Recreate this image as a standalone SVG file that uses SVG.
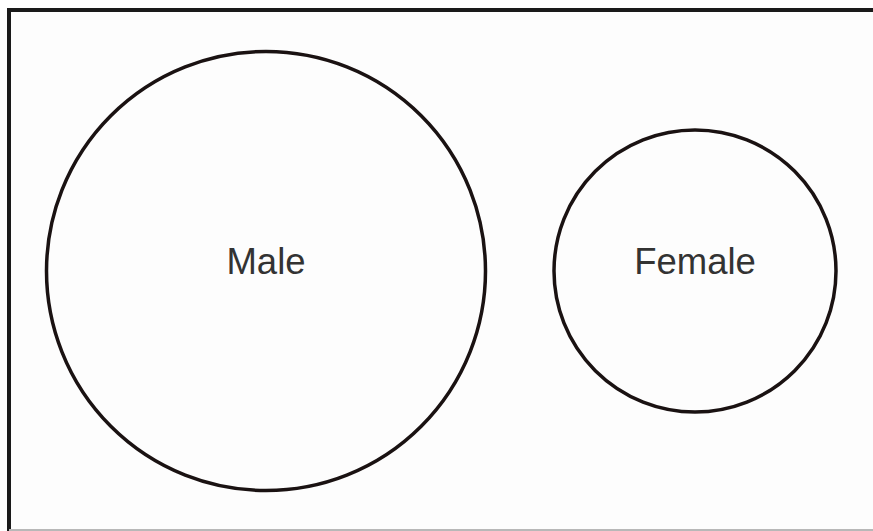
<svg xmlns="http://www.w3.org/2000/svg" width="873" height="531" viewBox="0 0 873 531">
<style>
.c{fill:none;stroke:#1a1212;stroke-width:3.5}
.t{font-family:"Liberation Sans",Arial,sans-serif;font-size:36.5px;fill:#333;text-anchor:middle}
</style>
<rect x="0" y="0" width="873" height="531" fill="#fff"/>
<rect x="9" y="10" width="880" height="519" fill="#fdfdfd"/>
<path d="M9,531 V10 H873" fill="none" stroke="#1a1a1a" stroke-width="4"/>
<line x1="9" y1="530" x2="873" y2="530" stroke="#b8b8b8" stroke-width="2"/>
<g id="male">
<circle class="c" cx="266" cy="271" r="219.5"/>
<text class="t" x="266" y="273.5">Male</text>
</g>
<g id="female">
<circle class="c" cx="695" cy="271" r="141"/>
<text class="t" x="695" y="273.5">Female</text>
</g>
<g id="connectors"></g>
</svg>
